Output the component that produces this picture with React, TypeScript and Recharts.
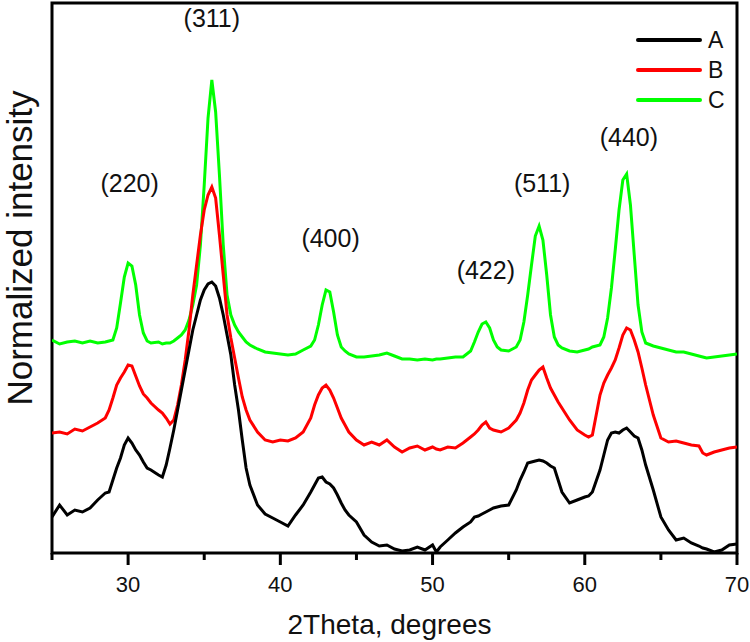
import React from 'react';
import { LineChart, Line, XAxis, YAxis, ReferenceArea, ReferenceDot, Legend } from 'recharts';

const FONT = '"Liberation Sans", Arial, Helvetica, sans-serif';

// 2theta sampling (denser around the peaks)
const twoTheta = [
  25, 25.5, 26, 26.5, 27, 27.5, 28, 28.5, 28.75, 29,
  29.25, 29.5, 29.75, 30, 30.25, 30.5, 30.75, 31, 31.25, 31.5,
  32, 32.25, 32.5, 32.75, 33, 33.25, 33.5, 33.75, 34, 34.25,
  34.5, 34.75, 35, 35.25, 35.5, 35.75, 36, 36.25, 36.5, 36.75,
  37, 37.25, 37.5, 37.75, 38, 38.5, 39, 39.5, 40, 40.5,
  41, 41.5, 42, 42.25, 42.5, 42.75, 43, 43.25, 43.5, 43.75,
  44, 44.25, 44.5, 45, 45.5, 46, 46.5, 47, 47.5, 48,
  48.5, 49, 49.5, 50, 50.25, 50.5, 51, 51.5, 52, 52.5,
  52.75, 53, 53.25, 53.5, 53.75, 54, 54.25, 54.5, 55, 55.5,
  55.75, 56, 56.25, 56.5, 56.75, 57, 57.25, 57.5, 57.75, 58,
  58.25, 58.5, 59, 59.5, 60, 60.25, 60.5, 61, 61.25, 61.5,
  61.75, 62, 62.25, 62.5, 62.75, 63, 63.25, 63.5, 63.75, 64,
  64.5, 65, 65.5, 66, 66.5, 67, 67.5, 67.75, 68, 68.5,
  69, 69.5, 70,
];

// normalized intensity, offset curves (arb. units)
const seriesA = [
  36, 48, 38, 43, 41, 45, 53, 60, 61, 73,
  85, 95, 108, 115, 110, 103, 98, 91, 85, 83,
  78, 76, 88, 105, 123, 143, 163, 183, 203, 223,
  238, 253, 263, 269, 271, 267, 255, 238, 218, 198,
  168, 143, 113, 85, 68, 48, 39, 35, 31, 27,
  38, 48, 61, 68, 75, 76, 71, 69, 65, 58,
  50, 43, 38, 31, 18, 11, 7, 8, 4, 2,
  3, 6, 3, 8, 1, 6, 13, 20, 26, 31,
  36, 37, 39, 41, 43, 45, 46, 47, 48, 63,
  73, 81, 90, 91, 92, 93, 92, 90, 87, 85,
  73, 61, 50, 53, 56, 57, 61, 83, 98, 113,
  120, 121, 120, 123, 125, 121, 117, 115, 103, 88,
  63, 36, 23, 13, 15, 10, 7, 5, 4, 1,
  3, 8, 9,
];

const seriesB = [
  120, 121, 119, 124, 122, 126, 130, 135, 143, 155,
  168, 175, 181, 188, 187, 177, 167, 159, 155, 150,
  143, 140, 135, 129, 133, 148, 168, 193, 223, 258,
  288, 318, 343, 358, 366, 355, 318, 278, 238, 215,
  195, 175, 156, 143, 133, 121, 113, 111, 113, 112,
  115, 121, 135, 148, 158, 165, 168, 163, 155, 145,
  135, 128, 121, 113, 108, 111, 108, 113, 106, 101,
  105, 107, 103, 106, 104, 103, 106, 105, 110, 116,
  119, 123, 128, 131, 125, 123, 122, 121, 125, 133,
  140, 150, 163, 173, 178, 183, 186, 175, 165, 158,
  151, 145, 133, 123, 118, 116, 118, 158, 170, 178,
  185, 193, 205, 218, 225, 223, 213, 201, 185, 168,
  138, 115, 111, 112, 110, 108, 107, 100, 98, 101,
  103, 105, 106,
];

const seriesC = [
  213, 209, 211, 212, 210, 212, 210, 211, 212, 213,
  225, 250, 276, 290, 287, 268, 238, 220, 212, 210,
  211, 209, 210, 210, 212, 215, 218, 223, 233, 248,
  268, 308, 368, 435, 473, 441, 378, 308, 258, 238,
  228, 221, 216, 211, 208, 204, 201, 200, 199, 198,
  199, 203, 207, 213, 228, 248, 263, 261, 241, 218,
  206, 202, 199, 196, 196, 197, 198, 200, 197, 194,
  194, 193, 194, 193, 194, 194, 195, 196, 196, 202,
  211, 221, 229, 231, 225, 213, 206, 203, 202, 206,
  213, 231, 258, 288, 317, 327, 313, 278, 238, 216,
  208, 205, 202, 201, 203, 204, 206, 208, 216, 235,
  265, 303, 343, 373, 379, 348, 298, 248, 221, 210,
  207, 205, 203, 201, 201, 199, 197, 196, 195, 196,
  197, 198, 199,
];

const xTicks = [25, 30, 35, 40, 45, 50, 55, 60, 65, 70];

const peakLabels = ['(220)', '(311)', '(400)', '(422)', '(511)', '(440)'];
const peakTheta = [30.1, 35.5, 43.3, 53.5, 57.2, 62.9];
const peakLabelY = [370, 535, 315, 283, 370, 416];

const sampleNames = ['A', 'B', 'C'];
const sampleColors = ['#000000', '#ff0000', '#00ff00'];

const chartData = twoTheta.map((t, i) => ({
  t,
  A: seriesA[i],
  B: seriesB[i],
  C: seriesC[i],
}));

function XTick(props: any) {
  const { x, y, payload } = props;
  const major = payload.value % 10 === 0;
  return (
    <g>
      <line x1={x} x2={x} y1={y} y2={y + (major ? 12 : 7)} stroke="#000" strokeWidth={3} />
      {major && (
        <text x={x} y={y + 39} textAnchor="middle" fontSize={22} fontFamily={FONT} fill="#111">
          {payload.value}
        </text>
      )}
    </g>
  );
}

function SampleLegend() {
  return (
    <div style={{ fontFamily: FONT, fontSize: 23, color: '#111' }}>
      {sampleNames.map((n, i) => (
        <div key={n} style={{ display: 'flex', alignItems: 'center', height: 30 }}>
          <svg width={66} height={8}>
            <line x1={2} x2={64} y1={4} y2={4} stroke={sampleColors[i]} strokeWidth={4} strokeLinecap="round" />
          </svg>
          <span style={{ marginLeft: 6 }}>{n}</span>
        </div>
      ))}
    </div>
  );
}

export default function App() {
  return (
    <div>
      <style>{'body{margin:0;}'}</style>
      <LineChart
        width={750}
        height={642}
        data={chartData}
        margin={{ top: 3, right: 13, left: 0, bottom: 0 }}
        style={{ fontFamily: FONT }}
      >
        <XAxis
          dataKey="t"
          type="number"
          domain={[25, 70]}
          ticks={xTicks}
          interval={0}
          allowDataOverflow
          tick={<XTick />}
          tickLine={false}
          axisLine={false}
          tickSize={0}
          tickMargin={0}
          height={89}
          label={{
            value: '2Theta, degrees',
            position: 'insideBottom',
            offset: 8,
            fontSize: 28,
            fill: '#111',
            fontFamily: FONT,
            dx: -5,
          }}
        />
        <YAxis
          type="number"
          domain={[0, 550]}
          width={52}
          tick={false}
          tickLine={false}
          axisLine={false}
          allowDataOverflow
          label={() => (
            <text
              transform="translate(19,248) rotate(-90)"
              textAnchor="middle"
              dominantBaseline="central"
              fontSize={35}
              fontFamily={FONT}
              fill="#111"
            >
              Normalized intensity
            </text>
          )}
        />
        <Legend
          layout="horizontal"
          verticalAlign="middle"
          align="center"
          content={() => <SampleLegend />}
          wrapperStyle={{ position: 'absolute', top: 25, left: 636, width: 100, height: 92 }}
        />
        <Line type="linear" dataKey="C" stroke={sampleColors[2]} strokeWidth={3} dot={false} activeDot={false} isAnimationActive={false} />
        <Line type="linear" dataKey="B" stroke={sampleColors[1]} strokeWidth={3} dot={false} activeDot={false} isAnimationActive={false} />
        <Line type="linear" dataKey="A" stroke={sampleColors[0]} strokeWidth={3} dot={false} activeDot={false} isAnimationActive={false} />
        {peakLabels.map((lab, i) => (
          <ReferenceDot
            key={lab}
            x={peakTheta[i]}
            y={peakLabelY[i]}
            r={0}
            fill="none"
            stroke="none"
            label={{ value: lab, position: 'center', fontSize: 25, fill: '#111', fontFamily: FONT }}
          />
        ))}
        <ReferenceArea x1={25} x2={70} y1={0} y2={550} fill="none" stroke="#000" strokeWidth={3} ifOverflow="visible" />
      </LineChart>
    </div>
  );
}
